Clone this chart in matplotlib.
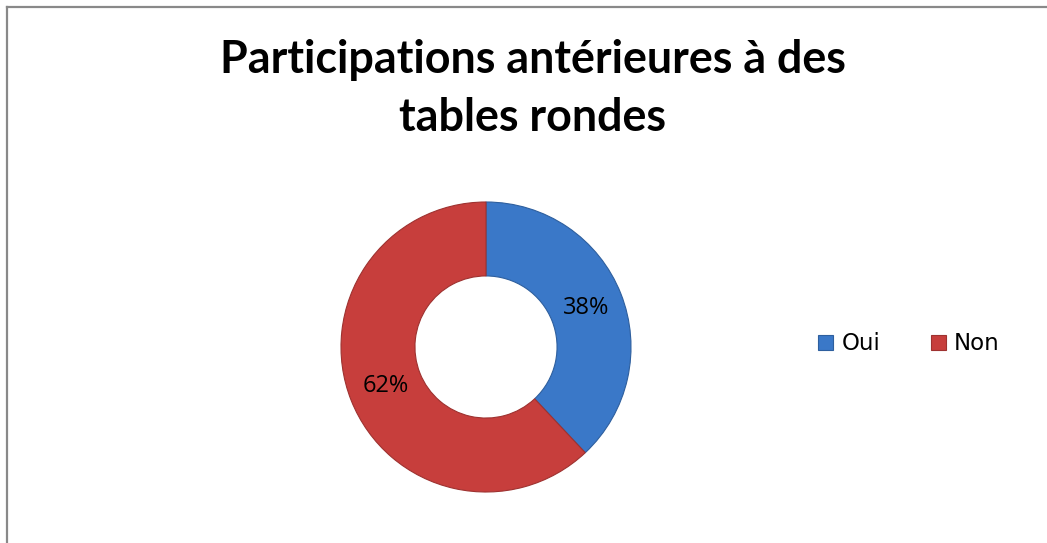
import matplotlib
matplotlib.use("Agg")
import matplotlib.pyplot as plt
from matplotlib.patches import Patch
from matplotlib.lines import Line2D

# ---- data ----
title_lines = ["Participations antérieures à des", "tables rondes"]
categories = ["Oui", "Non"]
values = [38, 62]
colors = ["#3A78C8", "#C73E3C"]
edge_colors = ["#2E5F9E", "#9E3230"]

W, H = 1047, 543
fig = plt.figure(figsize=(W / 100, H / 100), dpi=100)
fig.patch.set_facecolor("white")

# border (top and left visible)
fig.add_artist(Line2D([6.5 / W, 1.0], [1 - 6.5 / H, 1 - 6.5 / H], color="#898989", lw=1.6))
fig.add_artist(Line2D([6.5 / W, 6.5 / W], [0, 1 - 6.5 / H], color="#898989", lw=1.6))

# title
fig.text(533 / W, 1 - 73 / H, title_lines[0], ha="center", va="baseline",
         fontsize=32.3, fontweight="bold", family="Lato", color="black")
fig.text(533 / W, 1 - 131 / H, title_lines[1], ha="center", va="baseline",
         fontsize=32.3, fontweight="bold", family="Lato", color="black")

# donut
cx, cy, r = 486, 347, 145
ax = fig.add_axes([(cx - r) / W, (H - cy - r) / H, 2 * r / W, 2 * r / H])
wedges, texts, autotexts = ax.pie(
    values, colors=colors, startangle=90, counterclock=False, radius=1.0,
    wedgeprops=dict(width=0.51, linewidth=0.8),
    autopct=lambda p: f"{p:.0f}%", pctdistance=0.74,
    textprops=dict(fontsize=17, family="Open Sans", color="black"))
for w, ec in zip(wedges, edge_colors):
    w.set_edgecolor(ec)
ax.set_xlim(-1, 1)
ax.set_ylim(-1, 1)
ax.set_aspect("equal")
ax.axis("off")

# legend
handles = [Patch(facecolor=c, edgecolor=ec, linewidth=0.8) for c, ec in zip(colors, edge_colors)]
fs = 16.5
leg = fig.legend(handles, categories, loc="center left",
                 bbox_to_anchor=(818 / W, 1 - 344 / H), ncol=2, frameon=False,
                 borderpad=0, borderaxespad=0,
                 handlelength=0.66, handleheight=0.66, handletextpad=0.36,
                 columnspacing=2.2, prop=dict(family="DejaVu Sans", size=fs))

fig.savefig("out.png", dpi=100, facecolor="white")
